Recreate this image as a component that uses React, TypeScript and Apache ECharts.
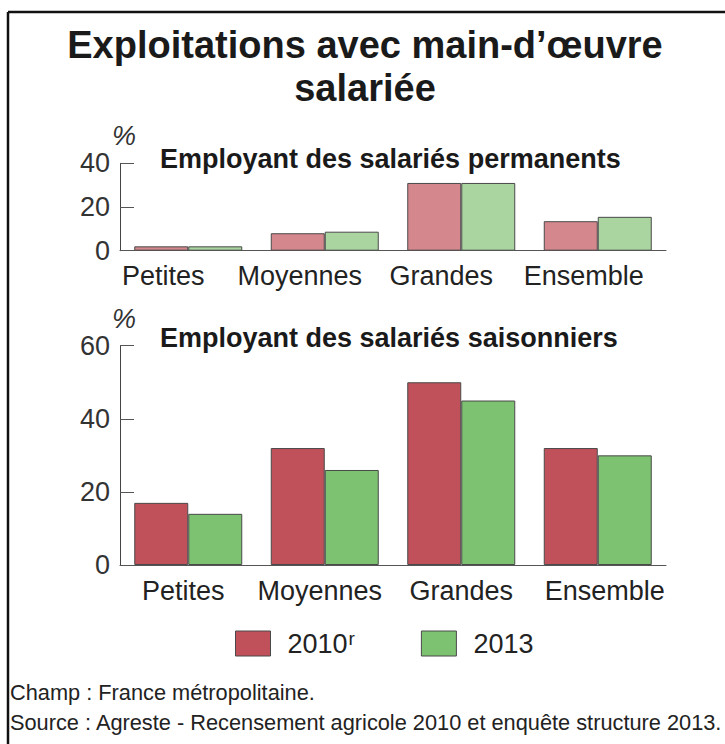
import React, { useEffect, useRef } from "react";
import * as echarts from "echarts";

const categories = ["Petites", "Moyennes", "Grandes", "Ensemble"];
const permanents2010 = [2, 8, 31, 13.5];
const permanents2013 = [2, 8.7, 31, 15.5];
const saisonniers2010 = [17, 32, 50, 32];
const saisonniers2013 = [14, 26, 45, 30];
const permanentsAxis = { min: 0, max: 40, interval: 20 };
const saisonniersAxis = { min: 0, max: 60, interval: 20 };
const legendNames = ["2010", "2013"];

const titleLines = ["Exploitations avec main-d\u2019\u0153uvre", "salari\u00e9e"];
const subtitlePermanents = "Employant des salari\u00e9s permanents";
const subtitleSaisonniers = "Employant des salari\u00e9s saisonniers";
const footerLines = [
  "Champ : France m\u00e9tropolitaine.",
  "Source : Agreste - Recensement agricole 2010 et enqu\u00eate structure 2013.",
];

const FONT = "Liberation Sans, Arial, sans-serif";

const lightRed = "#d4878c";
const lightGreen = "#aad5a0";
const red = "#c0505a";
const green = "#7dc271";
const border = "#4a4a4a";

// horizontal label shifts (px) as in the reference layout
const topLabelShift = [-25, -25, -20, -14];
const bottomLabelShift = [-5, -5, 0, 7];

export default function App() {
  const ref = useRef<HTMLDivElement>(null);

  useEffect(() => {
    document.body.style.margin = "0";
    const chart = echarts.init(ref.current!, undefined, { renderer: "svg" });

    const yAxisCommon = (ax: { min: number; max: number; interval: number }, gridIndex: number) => ({
      type: "value",
      gridIndex,
      min: ax.min,
      max: ax.max,
      interval: ax.interval,
      name: "%",
      nameLocation: "end",
      nameGap: 10,
      nameTextStyle: {
        fontFamily: FONT,
        fontSize: 27,
        fontStyle: "italic",
        color: "#333",
        align: "left",
        padding: [0, 0, 0, -8],
      },
      axisLine: { show: true, lineStyle: { color: "#444", width: 1 } },
      axisTick: { show: true, inside: true, length: 14, lineStyle: { color: "#555" } },
      splitLine: { show: false },
      axisLabel: { fontFamily: FONT, fontSize: 27, color: "#333", margin: 10 },
    });

    const shiftedData = (shifts: number[]) =>
      categories.map((c, i) => {
        const s = shifts[i];
        return {
          value: c,
          textStyle: { padding: s < 0 ? [0, -2 * s, 0, 0] : [0, 0, 0, 2 * s] },
        };
      });

    const xAxisCommon = (gridIndex: number, shifts: number[]) => ({
      type: "category",
      gridIndex,
      data: shiftedData(shifts),
      boundaryGap: true,
      axisLine: { show: true, lineStyle: { color: "#555", width: 1 } },
      axisTick: { show: false },
      axisLabel: { fontFamily: FONT, fontSize: 27, color: "#222", margin: 12, interval: 0 },
    });

    const barCommon = {
      type: "bar",
      barWidth: 54,
      barGap: "0%",
    };

    chart.setOption({
      animation: false,
      backgroundColor: "#fff",
      grid: [
        { left: 120, right: 59, top: 163.3, height: 87.4 },
        { left: 120, right: 59, top: 345.7, height: 219.3 },
      ],
      xAxis: [xAxisCommon(0, topLabelShift), xAxisCommon(1, bottomLabelShift)],
      yAxis: [yAxisCommon(permanentsAxis, 0), yAxisCommon(saisonniersAxis, 1)],
      legend: {
        left: 235,
        top: 629,
        padding: 0,
        icon: "rect",
        itemWidth: 35,
        itemHeight: 25,
        itemGap: 66,
        selectedMode: false,
        data: [
          { name: legendNames[0], itemStyle: { color: red, borderColor: border, borderWidth: 1 } },
          { name: legendNames[1], itemStyle: { color: green, borderColor: border, borderWidth: 1 } },
        ],
        formatter: (name: string) => (name === legendNames[0] ? `{a|${name}}{s|r}` : `{a|${name}}`),
        textStyle: {
          padding: [0, 0, 0, 12],
          rich: {
            a: { fontFamily: FONT, fontSize: 27, color: "#222" },
            s: { fontFamily: FONT, fontSize: 19, color: "#222", verticalAlign: "top", padding: [0, 0, 10, 1] },
          },
        },
      },
      series: [
        {
          ...barCommon,
          name: legendNames[0],
          xAxisIndex: 1,
          yAxisIndex: 1,
          data: saisonniers2010,
          itemStyle: { color: red, borderColor: border, borderWidth: 1 },
        },
        {
          ...barCommon,
          name: legendNames[1],
          xAxisIndex: 1,
          yAxisIndex: 1,
          data: saisonniers2013,
          itemStyle: { color: green, borderColor: border, borderWidth: 1 },
        },
        {
          ...barCommon,
          name: legendNames[0],
          xAxisIndex: 0,
          yAxisIndex: 0,
          data: permanents2010,
          itemStyle: { color: lightRed, borderColor: border, borderWidth: 1 },
        },
        {
          ...barCommon,
          name: legendNames[1],
          xAxisIndex: 0,
          yAxisIndex: 0,
          data: permanents2013,
          itemStyle: { color: lightGreen, borderColor: border, borderWidth: 1 },
        },
      ],
      graphic: [
        { type: "line", shape: { x1: 8, y1: 12, x2: 725, y2: 12 }, style: { stroke: "#111", lineWidth: 2.5 } },
        { type: "line", shape: { x1: 8, y1: 12, x2: 8, y2: 744 }, style: { stroke: "#111", lineWidth: 2.5 } },
        {
          type: "text",
          x: 365,
          y: 45,
          style: { text: titleLines[0], font: `bold 38px ${FONT}`, fill: "#1a1a1a", align: "center", verticalAlign: "middle" },
        },
        {
          type: "text",
          x: 365,
          y: 88,
          style: { text: titleLines[1], font: `bold 38px ${FONT}`, fill: "#1a1a1a", align: "center", verticalAlign: "middle" },
        },
        {
          type: "text",
          x: 160,
          y: 159,
          style: { text: subtitlePermanents, font: `bold 27px ${FONT}`, fill: "#1a1a1a", align: "left", verticalAlign: "middle" },
        },
        {
          type: "text",
          x: 160,
          y: 338,
          style: { text: subtitleSaisonniers, font: `bold 27px ${FONT}`, fill: "#1a1a1a", align: "left", verticalAlign: "middle" },
        },
        {
          type: "text",
          x: 10,
          y: 692,
          scaleX: 0.99,
          style: { text: footerLines[0], font: `22px ${FONT}`, fill: "#222", align: "left", verticalAlign: "middle" },
        },
        {
          type: "text",
          x: 10,
          y: 722,
          scaleX: 0.99,
          style: { text: footerLines[1], font: `22px ${FONT}`, fill: "#222", align: "left", verticalAlign: "middle" },
        },
      ],
    });

    return () => chart.dispose();
  }, []);

  return <div ref={ref} style={{ width: 725, height: 744 }} />;
}
